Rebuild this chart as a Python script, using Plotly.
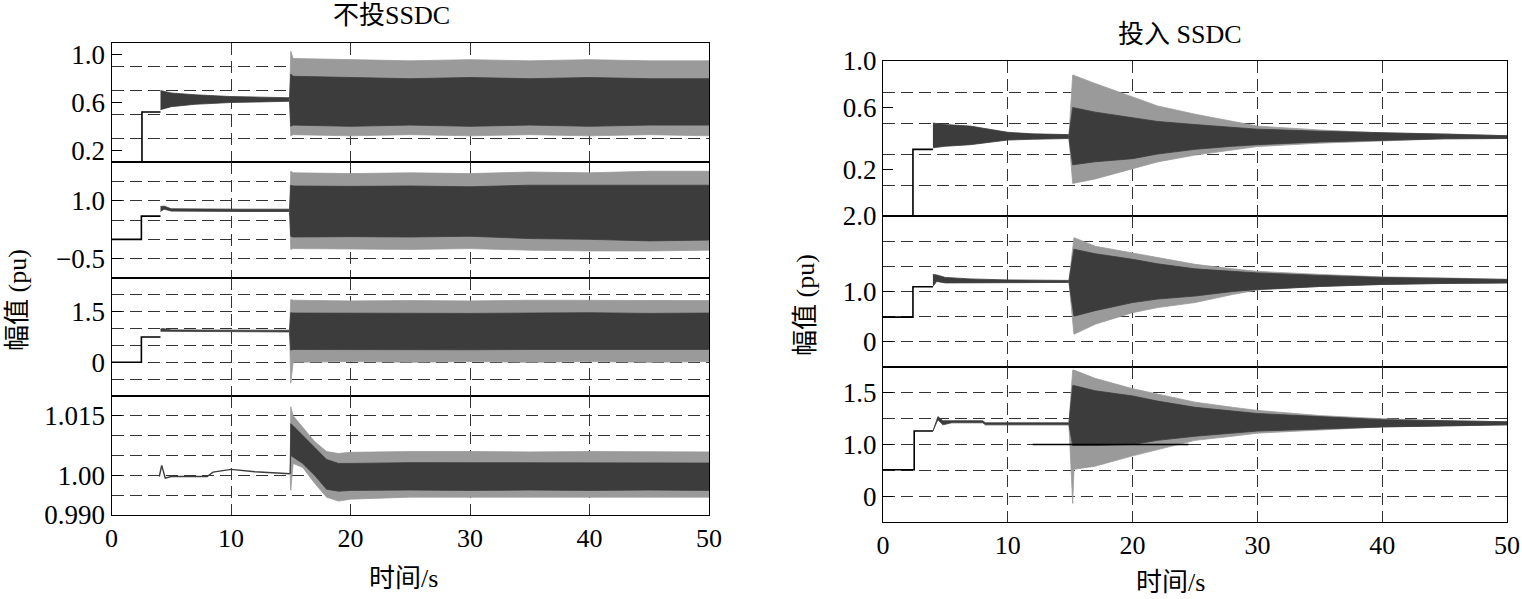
import plotly.graph_objects as go

W, H = 1522, 599
FONT = "Liberation Serif, 'Noto Sans CJK SC', serif"

# ---------------- data ----------------
# Left panel: 不投SSDC
L1_step_t = [0, 2.55, 4.1]
L1_step_v = [0.0, 0.52, 0.52]
L1_pre_t = [4.1, 5, 7, 10, 12.5, 14.9]
L1_pre_hi = [0.70, 0.68, 0.665, 0.65, 0.645, 0.64]
L1_pre_lo = [0.54, 0.565, 0.585, 0.60, 0.605, 0.61]
L1_post_t = [14.9, 15.0, 15.2, 20, 25, 30, 35, 40, 45, 50]
L1_out_hi = [0.63, 1.03, 0.97, 0.96, 0.95, 0.96, 0.95, 0.96, 0.95, 0.95]
L1_out_lo = [0.62, 0.32, 0.33, 0.32, 0.33, 0.32, 0.33, 0.32, 0.33, 0.32]
L1_core_hi = [0.63, 0.84, 0.82, 0.81, 0.80, 0.81, 0.80, 0.81, 0.80, 0.80]
L1_core_lo = [0.62, 0.40, 0.41, 0.40, 0.41, 0.40, 0.41, 0.40, 0.41, 0.41]

L2_step_t = [0, 2.5, 4.1]
L2_step_v = [0.0, 0.6, 0.6]
L2_pre_t = [4.1, 4.4, 5, 8, 11, 14.9]
L2_pre_hi = [0.85, 0.86, 0.79, 0.78, 0.78, 0.78]
L2_pre_lo = [0.72, 0.78, 0.73, 0.72, 0.72, 0.72]
L2_post_t = [14.9, 15.0, 15.2, 20, 25, 30, 35, 40, 45, 50]
L2_out_hi = [0.76, 1.76, 1.72, 1.70, 1.72, 1.70, 1.74, 1.72, 1.76, 1.76]
L2_out_lo = [0.74, -0.26, -0.24, -0.25, -0.26, -0.24, -0.28, -0.30, -0.30, -0.28]
L2_core_hi = [0.76, 1.40, 1.38, 1.37, 1.38, 1.36, 1.40, 1.40, 1.41, 1.40]
L2_core_lo = [0.74, 0.08, 0.06, 0.07, 0.06, 0.08, 0.02, 0.0, -0.04, -0.02]

L3_step_t = [0, 2.5, 4.1]
L3_step_v = [0.0, 0.75, 0.75]
L3_pre_t = [4.1, 4.3, 5, 10, 14.9]
L3_pre_hi = [0.99, 1.00, 0.96, 0.95, 0.95]
L3_pre_lo = [0.92, 0.92, 0.90, 0.90, 0.90]
L3_post_t = [14.9, 15.0, 15.2, 20, 25, 30, 35, 40, 45, 50]
L3_out_hi = [0.93, 1.86, 1.84, 1.82, 1.83, 1.82, 1.84, 1.83, 1.82, 1.83]
L3_out_lo = [0.91, -0.62, 0.0, 0.02, 0.0, 0.02, 0.0, 0.02, 0.0, 0.02]
L3_core_hi = [0.93, 1.47, 1.46, 1.45, 1.46, 1.45, 1.46, 1.47, 1.45, 1.46]
L3_core_lo = [0.91, 0.36, 0.38, 0.37, 0.38, 0.37, 0.38, 0.37, 0.38, 0.38]

L4_pre_t = [4.0, 4.2, 4.5, 5, 8, 8.5, 10, 12, 14.95]
L4_pre_v = [0.9997, 1.0025, 0.9993, 0.9997, 0.9997, 1.0008, 1.0015, 1.0009, 1.0004]
L4_post_t = [14.95, 15.0, 15.2, 16, 17, 18, 19, 20, 25, 30, 35, 40, 45, 50]
L4_out_hi = [1.0004, 1.0173, 1.0150, 1.0120, 1.0085, 1.0060, 1.0055, 1.0058, 1.0060, 1.0060, 1.0059, 1.0060, 1.0060, 1.0059]
L4_out_lo = [1.0004, 0.9962, 1.0030, 1.0020, 0.9980, 0.9945, 0.9935, 0.9940, 0.9945, 0.9945, 0.9944, 0.9945, 0.9945, 0.9945]
L4_core_hi = [1.0004, 1.0130, 1.0125, 1.0100, 1.0070, 1.0040, 1.0030, 1.0030, 1.0032, 1.0032, 1.0031, 1.0032, 1.0032, 1.0031]
L4_core_lo = [1.0004, 1.0050, 1.0046, 1.0030, 1.0000, 0.9965, 0.9960, 0.9962, 0.9963, 0.9962, 0.9963, 0.9962, 0.9963, 0.9962]

# Right panel: 投入 SSDC
R1_step_t = [0, 2.4, 4.0]
R1_step_v = [-0.2, 0.33, 0.33]
R1_pre_t = [4.0, 5, 7, 10, 12, 14.9]
R1_pre_hi = [0.50, 0.49, 0.48, 0.44, 0.43, 0.425]
R1_pre_lo = [0.34, 0.35, 0.36, 0.39, 0.395, 0.40]
R1_post_t = [14.9, 15.2, 17, 20, 22, 25, 28, 30, 35, 40, 45, 50]
R1_out_hi = [0.42, 0.81, 0.755, 0.667, 0.61, 0.557, 0.51, 0.48, 0.455, 0.436, 0.43, 0.418]
R1_out_lo = [0.40, 0.11, 0.139, 0.205, 0.249, 0.293, 0.326, 0.348, 0.37, 0.385, 0.398, 0.40]
R1_core_hi = [0.42, 0.60, 0.57, 0.535, 0.51, 0.49, 0.47, 0.46, 0.447, 0.437, 0.427, 0.418]
R1_core_lo = [0.40, 0.23, 0.25, 0.27, 0.30, 0.33, 0.35, 0.36, 0.378, 0.39, 0.398, 0.40]

R2_step_t = [0, 2.4, 4.0]
R2_step_v = [0.49, 1.095, 1.095]
R2_pre_t = [4.0, 4.3, 5, 7, 10, 14.9]
R2_pre_hi = [1.34, 1.33, 1.28, 1.25, 1.23, 1.22]
R2_pre_lo = [1.10, 1.20, 1.17, 1.17, 1.17, 1.18]
R2_post_t = [14.9, 15.3, 17, 20, 22, 25, 28, 30, 35, 40, 45, 50]
R2_out_hi = [1.21, 2.07, 1.90, 1.77, 1.67, 1.54, 1.45, 1.40, 1.34, 1.29, 1.27, 1.24]
R2_out_lo = [1.19, 0.15, 0.35, 0.58, 0.68, 0.78, 0.94, 1.03, 1.10, 1.14, 1.16, 1.17]
R2_core_hi = [1.21, 1.84, 1.75, 1.64, 1.55, 1.45, 1.40, 1.37, 1.32, 1.28, 1.26, 1.24]
R2_core_lo = [1.19, 0.51, 0.62, 0.78, 0.85, 0.91, 1.00, 1.04, 1.10, 1.14, 1.16, 1.17]

R3_step_t = [0, 2.5, 4.0]
R3_step_v = [0.755, 1.13, 1.13]
R3_pre_t = [4.0, 4.4, 4.8, 5.5, 8.0, 8.2, 14.9]
R3_pre_hi = [1.13, 1.27, 1.23, 1.23, 1.23, 1.21, 1.21]
R3_pre_lo = [1.13, 1.24, 1.19, 1.21, 1.21, 1.19, 1.19]
R3_ref_t = [12.0, 24.5]
R3_ref_v = [1.0, 1.0]
R3_post_t = [14.9, 15.2, 15.3, 17, 20, 22, 25, 28, 30, 35, 40, 45, 50]
R3_out_hi = [1.21, 1.72, 1.72, 1.64, 1.54, 1.49, 1.41, 1.36, 1.33, 1.28, 1.25, 1.23, 1.22]
R3_out_lo = [1.19, 0.43, 0.76, 0.79, 0.89, 0.95, 1.04, 1.08, 1.11, 1.14, 1.17, 1.18, 1.19]
R3_core_hi = [1.21, 1.57, 1.57, 1.52, 1.47, 1.42, 1.36, 1.32, 1.30, 1.27, 1.24, 1.23, 1.22]
R3_core_lo = [1.19, 0.99, 0.99, 0.99, 1.00, 1.04, 1.08, 1.11, 1.13, 1.15, 1.17, 1.18, 1.19]

x_ticks = [0, 10, 20, 30, 40, 50]

# axis definitions: range, dashed grid values, tick values, tick texts
Y_AXES = {
    1: dict(rng=[0.1, 1.1], grid=[0.3, 0.5, 0.7, 0.9], tv=[0.2, 0.6, 1.0], tt=["0.2", "0.6", "1.0"]),
    2: dict(rng=[-1.0, 2.0], grid=[-0.5, 0, 0.5, 1.0, 1.5], tv=[-0.5, 1.0], tt=["\u22120.5", "1.0"]),
    3: dict(rng=[-1.0, 2.5], grid=[-0.5, 0, 0.5, 1.0, 1.5, 2.0], tv=[0, 1.5], tt=["0", "1.5"]),
    4: dict(rng=[0.990, 1.020], grid=[0.995, 1.0, 1.005, 1.010, 1.015], tv=[0.990, 1.0, 1.015], tt=["0.990", "1.00", "1.015"]),
    5: dict(rng=[-0.1, 0.9], grid=[0.1, 0.3, 0.5, 0.7], tv=[0.2, 0.6, 0.9], tt=["0.2", "0.6", "1.0"]),
    6: dict(rng=[-0.5, 2.5], grid=[0, 0.5, 1.0, 1.5, 2.0], tv=[0, 1.0, 2.5], tt=["0", "1.0", "2.0"]),
    7: dict(rng=[0.25, 1.75], grid=[0.5, 0.75, 1.0, 1.25, 1.5], tv=[0.5, 1.0, 1.5], tt=["0", "1.0", "1.5"]),
}

# pixel layout of the subplots ((left, right), top, bottom)
LX = (111.5, 709)
RX = (883, 1507)
BOXES = {
    1: (LX, 43, 162), 2: (LX, 162, 278), 3: (LX, 278, 396), 4: (LX, 396, 515),
    5: (RX, 61, 216), 6: (RX, 216, 367), 7: (RX, 367, 522),
}
BOTTOM = {4, 7}

DARK = "#3c3c3c"
LIGHT = "#9a9a9a"

fig = go.Figure()


def ax(i, kind):
    return kind if i == 1 else f"{kind}{i}"


def band(i, t, hi, lo, color):
    fig.add_trace(go.Scatter(x=t, y=hi, mode="lines", line=dict(color=color, width=0.8),
                             xaxis=ax(i, "x"), yaxis=ax(i, "y"), hoverinfo="skip"))
    fig.add_trace(go.Scatter(x=t, y=lo, mode="lines", line=dict(color=color, width=0.8),
                             fill="tonexty", fillcolor=color,
                             xaxis=ax(i, "x"), yaxis=ax(i, "y"), hoverinfo="skip"))


def line(i, t, v, color="black", width=1.6, shape="hv"):
    fig.add_trace(go.Scatter(x=t, y=v, mode="lines", line=dict(color=color, width=width, shape=shape),
                             xaxis=ax(i, "x"), yaxis=ax(i, "y"), hoverinfo="skip"))


# left
line(1, L1_step_t, L1_step_v)
band(1, L1_pre_t, L1_pre_hi, L1_pre_lo, DARK)
band(1, L1_post_t, L1_out_hi, L1_out_lo, LIGHT)
band(1, L1_post_t, L1_core_hi, L1_core_lo, DARK)

line(2, L2_step_t, L2_step_v)
band(2, L2_pre_t, L2_pre_hi, L2_pre_lo, DARK)
band(2, L2_post_t, L2_out_hi, L2_out_lo, LIGHT)
band(2, L2_post_t, L2_core_hi, L2_core_lo, DARK)

line(3, L3_step_t, L3_step_v)
band(3, L3_pre_t, L3_pre_hi, L3_pre_lo, DARK)
band(3, L3_post_t, L3_out_hi, L3_out_lo, LIGHT)
band(3, L3_post_t, L3_core_hi, L3_core_lo, DARK)

line(4, L4_pre_t, L4_pre_v, color=DARK, width=1.4, shape="linear")
band(4, L4_post_t, L4_out_hi, L4_out_lo, LIGHT)
band(4, L4_post_t, L4_core_hi, L4_core_lo, DARK)

# right
line(5, R1_step_t, R1_step_v)
band(5, R1_pre_t, R1_pre_hi, R1_pre_lo, DARK)
band(5, R1_post_t, R1_out_hi, R1_out_lo, LIGHT)
band(5, R1_post_t, R1_core_hi, R1_core_lo, DARK)

line(6, R2_step_t, R2_step_v)
band(6, R2_pre_t, R2_pre_hi, R2_pre_lo, DARK)
band(6, R2_post_t, R2_out_hi, R2_out_lo, LIGHT)
band(6, R2_post_t, R2_core_hi, R2_core_lo, DARK)

line(7, R3_step_t, R3_step_v)
band(7, R3_pre_t, R3_pre_hi, R3_pre_lo, DARK)
band(7, R3_post_t, R3_out_hi, R3_out_lo, LIGHT)
band(7, R3_post_t, R3_core_hi, R3_core_lo, DARK)
line(7, R3_ref_t, R3_ref_v, color="black", width=1.4, shape="linear")

GRID_DASH = "12px,6px"
layout = dict(
    width=W, height=H, autosize=False,
    margin=dict(l=0, r=0, t=0, b=0, autoexpand=False),
    paper_bgcolor="white", plot_bgcolor="white",
    showlegend=False,
    font=dict(family=FONT, size=26, color="black"),
)

for i, ((x0, x1), top, bot) in BOXES.items():
    ya = Y_AXES[i]
    layout["xaxis" if i == 1 else f"xaxis{i}"] = dict(
        domain=[x0 / W, x1 / W], anchor=ax(i, "y"), range=[0, 50], automargin=False,
        tickmode="array", tickvals=x_ticks, ticktext=[str(v) for v in x_ticks],
        showticklabels=(i in BOTTOM), ticks="",
        showgrid=True, gridcolor="#333333", gridwidth=1, griddash=GRID_DASH,
        showline=True, mirror=True, linecolor="black", linewidth=1.3,
        zeroline=False, tickfont=dict(size=26, family=FONT),
    )
    layout["yaxis" if i == 1 else f"yaxis{i}"] = dict(
        domain=[1 - bot / H, 1 - top / H], anchor=ax(i, "x"), range=ya["rng"], automargin=False,
        tickmode="array", tickvals=ya["tv"], ticktext=ya["tt"],
        ticks="inside", ticklen=10, tickcolor="black", tickwidth=1,
        showgrid=False, zeroline=False,
        minor=dict(tickmode="array", tickvals=ya["grid"], showgrid=True,
                   gridcolor="#333333", gridwidth=1, griddash=GRID_DASH, ticks=""),
        showline=True, mirror=True, linecolor="black", linewidth=1.3,
        tickfont=dict(size=27, family=FONT),
    )

ann = [
    dict(text="不投SSDC", x=391 / W, y=1 - 15 / H),
    dict(text="投入 SSDC", x=1180 / W, y=1 - 34 / H),
    dict(text="时间/s", x=404 / W, y=1 - 578 / H),
    dict(text="时间/s", x=1170 / W, y=1 - 582 / H),
    dict(text="幅值 (pu)", x=17 / W, y=1 - 300 / H, textangle=-90),
    dict(text="幅值 (pu)", x=805 / W, y=1 - 305 / H, textangle=-90),
]
layout["annotations"] = [
    dict(xref="paper", yref="paper", showarrow=False, xanchor="center", yanchor="middle",
         font=dict(family=FONT, size=26, color="black"), **a) for a in ann
]

fig.update_layout(**layout)
fig.write_html("out.html", config={"displayModeBar": False},
               post_script="document.body.style.margin='0';document.body.style.overflow='hidden';")
